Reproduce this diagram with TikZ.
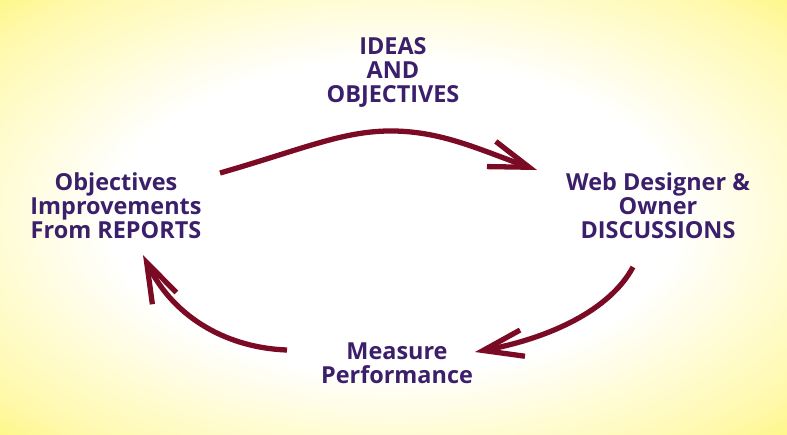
\documentclass[tikz,border=0pt]{standalone}
\usepackage{fontspec}
\usepackage{xcolor}
\usepackage{tikz}
\usetikzlibrary{arrows.meta}
\newfontfamily\lblfont{Open Sans}
\definecolor{bgyellow}{HTML}{FFF02E}
\definecolor{txtpurple}{HTML}{3B1F6B}
\definecolor{arrowred}{HTML}{7B0A25}
\pgfdeclareradialshading{glow}{\pgfpoint{0bp}{0bp}}{color(0bp)=(white); color(18bp)=(white); color(32bp)=(bgyellow!40); color(45bp)=(bgyellow); color(72bp)=(bgyellow)}
\tikzset{
  lbl/.style={align=center, text=txtpurple, font=\lblfont\bfseries\fontsize{20}{20.5}\selectfont, inner sep=0pt},
  flow/.style={arrowred, line width=4.5pt, -{Straight Barb[length=1.2cm, width=0.8cm]}}
}

\begin{document}
\begin{tikzpicture}[x=0.03cm, y=-0.03cm]
% background
\shade[shading=glow] (0,0) rectangle (787,434);
\useasboundingbox (0,0) rectangle (787,434);
% labels
\node[lbl] (ideas) at (393,72) {IDEAS\\AND\\OBJECTIVES};
\node[lbl] (web) at (658,206) {Web Designer \&\\Owner\\DISCUSSIONS};
\node[lbl] (reports) at (116,206) {Objectives\\Improvements\\From REPORTS};
\node[lbl] (measure) at (397,363) {Measure\\Performance};
% arrow ends
\coordinate (a1s) at (220,173);
\coordinate (a1e) at (537,170);
\coordinate (a2s) at (633,267);
\coordinate (a2e) at (475,352);
\coordinate (a3s) at (287,350);
\coordinate (a3e) at (143,255);
% arrows
\draw[flow] (a1s) .. controls (300,150) and (340,132) .. (387,131) .. controls (440,130) and (480,150) .. (a1e);
\draw[flow] (a2s) .. controls (610,310) and (550,338) .. (a2e);
\draw[flow] (a3s) .. controls (230,348) and (175,320) .. (a3e);
\end{tikzpicture}
\end{document}
